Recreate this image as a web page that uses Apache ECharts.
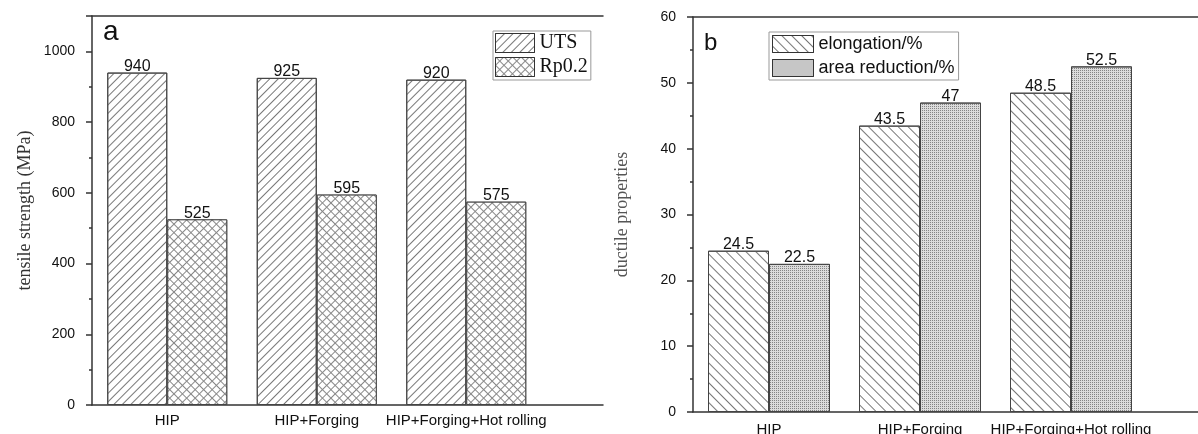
<!DOCTYPE html>
<html>
<head>
<meta charset="utf-8">
<script src="https://cdn.jsdelivr.net/npm/echarts@6/dist/echarts.min.js"></script>
<style>
  html, body { margin: 0; padding: 0; background: #fff; }
  #main { width: 1198px; height: 434px; }
</style>
</head>
<body>
<div id="main"></div>
<script>
// data
const categories = ['HIP', 'HIP+Forging', 'HIP+Forging+Hot rolling'];
const utsValues = [940, 925, 920];
const rpValues = [525, 595, 575];
const elongationValues = [24.5, 43.5, 48.5];
const areaReductionValues = [22.5, 47, 52.5];

const SANS = "'Liberation Sans', Arial, sans-serif";
const SERIF = "'Liberation Serif', 'Times New Roman', serif";

// frame axes (only lines) for each panel
function frameX(gridIndex, position) {
    return {
        gridIndex: gridIndex,
        type: 'value',
        min: 0,
        max: 1,
        position: position,
        axisLine: { show: true, onZero: false, lineStyle: { color: '#333', width: 1.5 } },
        axisTick: { show: false },
        axisLabel: { show: false },
        splitLine: { show: false }
    };
}

function catX(gridIndex, margin) {
    return {
        gridIndex: gridIndex,
        type: 'category',
        data: categories,
        axisLine: { show: false },
        axisTick: { show: false },
        axisLabel: { interval: 0, margin: margin, fontFamily: SANS, fontSize: 15, color: '#111' }
    };
}

function barLabel() {
    return { show: true, position: 'top', distance: -2, fontFamily: SANS, fontSize: 16, color: '#111' };
}

let chart = echarts.init(document.getElementById('main'));
chart.setOption({
    animation: false,
    backgroundColor: '#fff',
    title: [
        { text: 'a', left: 103, top: 18, padding: 0,
          textStyle: { fontFamily: SANS, fontSize: 28, fontWeight: 'normal', color: '#111' } },
        { text: 'b', left: 704, top: 31, padding: 0,
          textStyle: { fontFamily: SANS, fontSize: 24, fontWeight: 'normal', color: '#111' } }
    ],
    legend: [
        {
            data: ['UTS', 'Rp0.2'],
            orient: 'vertical',
            left: 493,
            top: 31,
            padding: [2, 3, 3, 2],
            itemGap: 4,
            itemWidth: 39,
            itemHeight: 19,
            itemTextGap: 3,
            borderColor: '#999',
            borderWidth: 1,
            icon: 'rect',
            itemStyle: { borderColor: '#333', borderWidth: 1 },
            textStyle: { fontFamily: SERIF, fontSize: 20, color: '#111' }
        },
        {
            data: ['elongation/%', 'area reduction/%'],
            orient: 'vertical',
            left: 769,
            top: 32,
            padding: [3, 4, 3, 3],
            itemGap: 6,
            itemWidth: 41,
            itemHeight: 17,
            itemTextGap: 6,
            borderColor: '#999',
            borderWidth: 1,
            icon: 'rect',
            itemStyle: { borderColor: '#333', borderWidth: 1 },
            textStyle: { fontFamily: SANS, fontSize: 18, color: '#111' }
        }
    ],
    grid: [
        { left: 92, top: 16, width: 511, height: 389, outerBoundsMode: 'none' },
        { left: 92.5, top: 16, width: 448.5, height: 389, outerBoundsMode: 'none' },
        { left: 693, top: 17, width: 505, height: 395, outerBoundsMode: 'none' },
        { left: 693.5, top: 17, width: 453, height: 395, outerBoundsMode: 'none' }
    ],
    xAxis: [
        frameX(0, 'bottom'),
        frameX(0, 'top'),
        catX(1, 8),
        frameX(2, 'bottom'),
        frameX(2, 'top'),
        catX(3, 10)
    ],
    yAxis: [
        {
            gridIndex: 0,
            type: 'value',
            min: 0, max: 1100, interval: 200,
            name: 'tensile strength (MPa)',
            nameLocation: 'middle',
            nameGap: 58,
            nameTextStyle: { fontFamily: SERIF, fontSize: 18, color: '#333' },
            axisLine: { show: true, lineStyle: { color: '#333', width: 1.5 } },
            axisTick: { show: true, inside: false, length: 6, lineStyle: { color: '#333', width: 1.5 } },
            minorTick: { show: true, splitNumber: 2, length: 3, lineStyle: { color: '#333', width: 1.5 } },
            axisLabel: { showMaxLabel: false, margin: 17, fontFamily: SANS, fontSize: 14, color: '#111',
                         formatter: function (v) { return String(v); } },
            splitLine: { show: false }
        },
        { gridIndex: 1, type: 'value', min: 0, max: 1100, show: false },
        {
            gridIndex: 2,
            type: 'value',
            min: 0, max: 60, interval: 10,
            name: 'ductile properties',
            nameLocation: 'middle',
            nameGap: 62,
            nameTextStyle: { fontFamily: SERIF, fontSize: 18, color: '#555' },
            axisLine: { show: true, lineStyle: { color: '#333', width: 1.5 } },
            axisTick: { show: true, inside: false, length: 6, lineStyle: { color: '#333', width: 1.5 } },
            minorTick: { show: true, splitNumber: 2, length: 3, lineStyle: { color: '#333', width: 1.5 } },
            axisLabel: { margin: 17, fontFamily: SANS, fontSize: 14, color: '#111' },
            splitLine: { show: false }
        },
        { gridIndex: 3, type: 'value', min: 0, max: 60, show: false }
    ],
    series: [
        {
            name: 'UTS', type: 'bar', xAxisIndex: 2, yAxisIndex: 1,
            barWidth: 60, barGap: '0%',
            data: utsValues,
            itemStyle: {
                color: '#fff', borderColor: '#444', borderWidth: 1,
                decal: { symbol: 'rect', symbolSize: 1, color: '#777',
                         dashArrayX: [1, 0], dashArrayY: [1, 5], rotation: -Math.PI / 4 }
            },
            label: barLabel()
        },
        {
            name: 'Rp0.2', type: 'bar', xAxisIndex: 2, yAxisIndex: 1,
            barWidth: 60, barGap: '0%',
            data: rpValues,
            itemStyle: {
                color: '#fff', borderColor: '#444', borderWidth: 1,
                decal: { symbol: 'rect', symbolSize: 1, color: '#fff', backgroundColor: '#888',
                         dashArrayX: [5, 1], dashArrayY: [5, 1], rotation: Math.PI / 4 }
            },
            label: barLabel()
        },
        {
            name: 'elongation/%', type: 'bar', xAxisIndex: 5, yAxisIndex: 3,
            barWidth: 61, barGap: '0%',
            data: elongationValues,
            itemStyle: {
                color: '#fff', borderColor: '#444', borderWidth: 1,
                decal: { symbol: 'rect', symbolSize: 1, color: '#777',
                         dashArrayX: [1, 0], dashArrayY: [1, 5.5], rotation: Math.PI / 4 }
            },
            label: barLabel()
        },
        {
            name: 'area reduction/%', type: 'bar', xAxisIndex: 5, yAxisIndex: 3,
            barWidth: 61, barGap: '0%',
            data: areaReductionValues,
            itemStyle: {
                color: '#dcdcdc', borderColor: '#444', borderWidth: 1,
                decal: { symbol: 'rect', symbolSize: 1, color: '#858585',
                         dashArrayX: [1, 1], dashArrayY: [1, 1], rotation: 0 }
            },
            label: barLabel()
        }
    ]
});
</script>
</body>
</html>
